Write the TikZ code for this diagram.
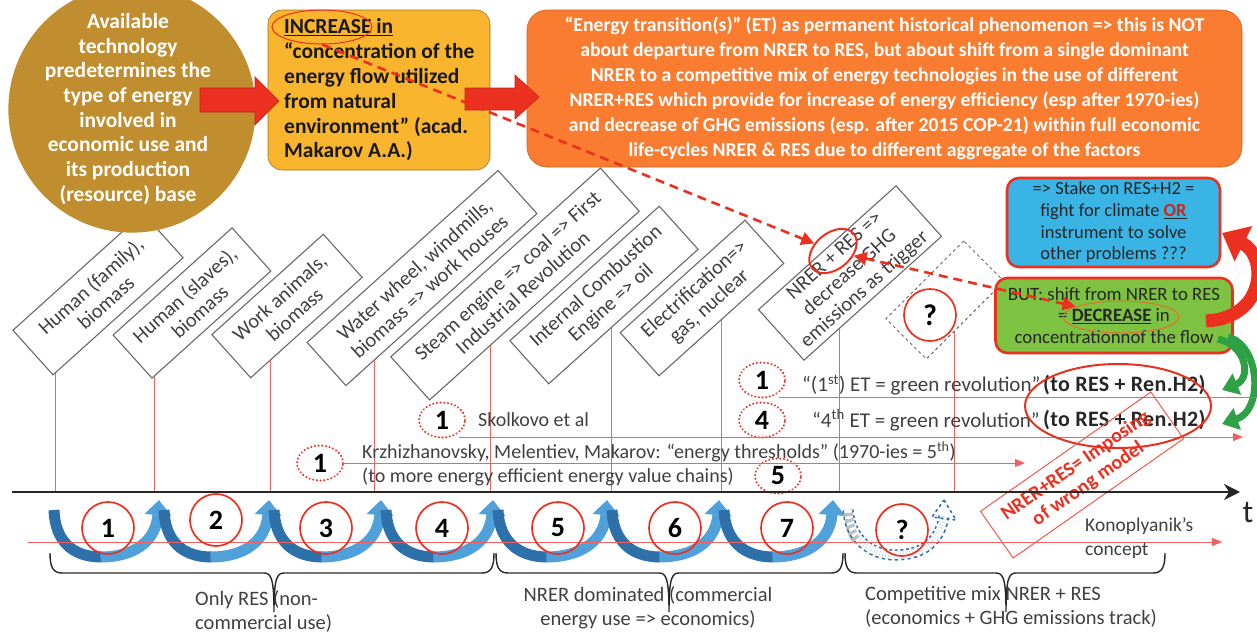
\documentclass[tikz,border=0pt]{standalone}
\usepackage{fontspec}
\setmainfont{Carlito}
\usetikzlibrary{arrows.meta,calc,shapes.geometric}
\definecolor{brownc}{RGB}{192,142,46}
\definecolor{yellowc}{RGB}{250,181,46}
\definecolor{orangec}{RGB}{250,124,48}
\definecolor{bluec}{RGB}{58,180,228}
\definecolor{greenc}{RGB}{126,194,66}
\definecolor{redc}{RGB}{236,48,32}
\definecolor{thinred}{RGB}{242,96,96}
\definecolor{txtgray}{RGB}{64,64,64}
\definecolor{boxgray}{RGB}{105,105,105}
\definecolor{darkblue}{RGB}{46,112,170}
\definecolor{lightblue}{RGB}{80,160,218}
\definecolor{greenarr}{RGB}{46,160,70}
\begin{document}
\begin{tikzpicture}[x=1pt,y=-1pt,
  rbox/.style={draw=boxgray, line width=1.1, rotate=42, align=center, text=txtgray,
    font=\fontsize{20.5}{22.5}\selectfont, inner sep=2, minimum height=58},
  vline/.style={draw=thinred, line width=0.9},
  rarr/.style={-{Triangle[width=8,length=10]}},
  dcirc/.style={ellipse, draw=redc, line width=2.2, dash pattern=on 0.1pt off 3.6pt, line cap=round,
    minimum width=46, minimum height=35, inner sep=0, font=\fontsize{28}{28}\selectfont\bfseries},
  ncirc/.style={circle, draw=redc, line width=1.7, minimum size=52, inner sep=0,
    font=\fontsize{28}{28}\selectfont\bfseries},
  lbl/.style={text=txtgray, font=\fontsize{20}{24}\selectfont, inner sep=0, anchor=west},
  etb/.style={text=black!85, font=\fontsize{22}{24}\selectfont\bfseries\addfontfeatures{LetterSpace=1.5}, inner sep=0, anchor=west},
  rdash/.style={draw=redc, line width=2.6, dash pattern=on 9pt off 6pt},
  swd/.style={draw=darkblue, line width=11},
  swl/.style={draw=lightblue, line width=11, -{Triangle[width=26,length=15]}},
  bracestyle/.style={draw=black!85, line width=1.4},
  blockarrow/.style={fill=redc, draw=redc!80!black, line width=0.6},
]
\useasboundingbox (0,0) rectangle (1257,635);

% timeline coordinates
\coordinate (tl0) at (12,492);
\coordinate (tl1) at (1240,492);

% rotated boxes
\node[rbox, minimum width=175, minimum height=60] (b1) at (98,294) {Human (family),\\biomass};
\node[rbox, minimum width=160] (b2) at (192,303) {Human (slaves),\\biomass};
\node[rbox, minimum width=150] (b3) at (287,306) {Work animals,\\biomass};
\node[rbox, minimum width=257] (b4) at (422,278) {Water wheel, windmills,\\biomass => work houses};
\node[rbox, minimum width=282] (b5) at (515,284) {Steam engine => coal => First\\Industrial Revolution};
\node[rbox, minimum width=201] (b6) at (604,295) {Internal Combustion\\Engine => oil};
\node[rbox, minimum width=168] (b7) at (702,298) {Electrification=>\\gas, nuclear};
\node[rbox, minimum width=185, minimum height=68] (b8) at (850,273) {NRER + RES =>\\decrease GHG\\emissions as trigger};
\node[draw=boxgray, line width=1, dashed, rotate=45, minimum width=110, minimum height=57] (b9) at (945,300) {};
\node[ncirc, font=\fontsize{30}{30}\selectfont\bfseries] (q1) at (930,315) {?};

% vertical red lines
\foreach \b/\f in {b1/0.02, b2/0.02, b3/0.18, b4/0.15, b5/0.29, b6/0.42, b7/0.5, b8/0.26, b9/0.36}{
  \path ($(\b.south west)!\f!(\b.south east)$) coordinate (vtmp);
  \draw[vline] (vtmp) -- (vtmp |- tl0);
}

% brown circle
\node[circle, fill=brownc, minimum size=236, inner sep=0, align=center, text=white,
  font=\fontsize{21.5}{24.7}\selectfont\bfseries] (avail) at (132,109)
  {\hspace*{-8pt}Available\\\hspace*{-8pt}technology\\\hspace*{-8pt}predetermines the\\\hspace*{-8pt}type of energy\\\hspace*{-8pt}involved in\\\hspace*{-8pt}economic use and\\\hspace*{-8pt}its production\\\hspace*{-8pt}(resource) base};

% yellow box
\node[draw=brownc!80!black, line width=0.6, fill=yellowc, rounded corners=14,
  minimum width=222, minimum height=160, inner sep=0] (yel) at (379,90) {};
\node[anchor=west, align=left, inner sep=0, font=\fontsize{21.5}{24.8}\selectfont\bfseries, text=black!90]
  (yeltxt) at (284,90) {\underline{INCREASE in}\\“concentration of the\\energy flow utilized\\from natural\\environment”  (acad.\\Makarov A.A.)};
\node[ellipse, draw=redc, line width=1, minimum width=100, minimum height=34, inner sep=0] (incell) at (322,27) {};

% orange box
\node[draw=orangec!80!black, line width=0.6, fill=orangec, rounded corners=20,
  minimum width=715, minimum height=157, inner sep=0, align=center, text=white,
  font=\fontsize{19.7}{25}\selectfont\bfseries] (ora) at (884.5,88.5)
  {“Energy transition(s)”  (ET) as permanent historical phenomenon => this is NOT\\
   about departure  from NRER to RES, but about shift from a single dominant\\
   NRER to a competitive mix of energy technologies in the use of different\\
   NRER+RES which provide  for increase of energy efficiency (esp after 1970-ies)\\
   and decrease of GHG emissions  (esp. after 2015 COP-21) within full economic\\
   life-cycles NRER \& RES due to different aggregate of the factors};

% block arrows
\fill[blockarrow] (200,88) -- (255,88) -- (255,77) -- (279,101) -- (255,125) -- (255,112) -- (200,112) -- cycle;
\fill[blockarrow] (465,88) -- (515,88) -- (515,75) -- (539,97) -- (515,119) -- (515,110) -- (465,110) -- cycle;

% blue and green boxes
\node[draw=redc, line width=2.6, fill=bluec, rounded corners=12, minimum width=213, minimum height=89,
  inner sep=0, align=center, text=black!85, font=\fontsize{18.5}{21.7}\selectfont] (blu) at (1113.5,222.5)
  {=> Stake on RES+H2 =\\fight for climate \underline{\textcolor{redc!85!black}{\textbf{OR}}}\\instrument to solve\\other problems ???};
\node[draw=redc, line width=2.6, fill=greenc, rounded corners=12, minimum width=237, minimum height=75,
  inner sep=0, align=center, text=black!85, font=\fontsize{18.8}{21.5}\selectfont] (grn) at (1114,315.5)
  {BUT: shift from NRER to RES\\= \underline{\textbf{DECREASE}} in\\concentrationnof the flow};
\node[ellipse, draw=orangec!90!black, line width=1, minimum width=116, minimum height=32, inner sep=0] (decell) at (1121,317) {};

% curved side arrows
\coordinate (ra0) at (1206,321);
\coordinate (ra1) at (1222,233);
\draw[draw=redc, line width=13, -{Triangle[width=38,length=24]}] (ra0) .. controls (1266,318) and (1268,256) .. (ra1);
\coordinate (ga0) at (1218,339);
\coordinate (ga1) at (1222,390);
\draw[draw=greenarr, line width=7, -{Triangle[width=22,length=16]}] (ga0) .. controls (1246,345) and (1252,378) .. (ga1);
\coordinate (gb0) at (1228,337);
\coordinate (gb1) at (1222,424);
\draw[draw=greenarr, line width=7, -{Triangle[width=22,length=16]}] (gb0) .. controls (1260,345) and (1264,410) .. (gb1);

% RES ellipse and dashed arrows
\node[ellipse, draw=redc, line width=2, rotate=40, minimum width=54, minimum height=36, inner sep=0] (resell) at (833,251) {};
\draw[rdash, -{Triangle[width=13,length=13]}] (incell.south) -- (resell);
\draw[rdash, {Triangle[width=13,length=13]}-{Triangle[width=13,length=13]}] (resell) -- (decell);

% threshold labels and lines
\node[dcirc] (c1et) at (762,380) {1};
\node[dcirc] (c4et) at (762,420) {4};
\node[dcirc] (c1sk) at (442,420) {1};
\node[dcirc] (c1kr) at (320,463) {1};
\node[dcirc] (c5kr) at (778,476) {5};
\coordinate (e1) at (1257,397);
\coordinate (e2) at (1243,437);
\coordinate (e3) at (1025,463);
\draw[vline] (c1et.south east |- e1) -- (e1);
\draw[vline, rarr] (c1sk.south east |- e2) -- (e2);
\draw[vline, rarr] (c1kr.east |- e3) -- (e3);

\node[lbl, font=\fontsize{21}{24}\selectfont] (t1) at (802,385) {“(1\textsuperscript{st}) ET = green revolution”};
\node[etb] (t1b) at (1043,385) {(to RES + Ren.H2)};
\node[lbl, font=\fontsize{21}{24}\selectfont] (t4) at (812,420) {“4\textsuperscript{th} ET = green revolution”};
\node[etb] (t4b) at (1043,420) {(to RES + Ren.H2)};
\node[lbl] (tsk) at (478,420) {Skolkovo et al};
\node[lbl] (tkr1) at (362,452) {Krzhizhanovsky, Melentiev, Makarov: “energy thresholds”  (1970-ies = 5\textsuperscript{th})};
\node[lbl] (tkr2) at (362,477) {(to more energy efficient energy value chains)};

\node[ellipse, draw=redc, line width=2, minimum width=186, minimum height=84, inner sep=0] (bigell) at (1118,406) {};

% wrong model box
\node[draw=redc!80, line width=1, rotate=35, minimum width=208, minimum height=57, inner sep=0,
  align=center, text=redc, font=\fontsize{20}{22}\selectfont\bfseries] (wrong) at (1082,475)
  {NRER+RES= Imposing\\of wrong model};

% timeline
\draw[line width=2.6, black!85, -{Stealth[width=16,length=16]}] (tl0) -- (tl1);
\node[inner sep=0, font=\fontsize{32}{32}\selectfont, text=black!85] (tlab) at (1248,512) {t};

% bottom swoops
\foreach \a/\b in {52/162, 162/272, 272/384, 384/496, 496/610, 610/722, 722/836}{
  \pgfmathsetmacro\m{\a+0.45*(\b-\a)}
  \draw[swd] (\a+2,510) .. controls (\a+3,540) and (\m-30,557) .. (\m,557);
  \draw[swl] (\m-1,557) .. controls (\m+32,557) and (\b-6,542) .. (\b-3,500);
}
% dashed future swoop
\draw[line width=9, black!25] (848,510) .. controls (849,524) and (851,532) .. (856,540);
\draw[darkblue, line width=1.6, dashed, double=white, double distance=8]
  (848,510) .. controls (850,538) and (870,555) .. (895,555) .. controls (925,555) and (940,540) .. (944,516);
\draw[darkblue, line width=1.6, dashed] (944,500) -- (956,520) -- (932,517) -- cycle;

% bottom red line
\coordinate (kl0) at (28,542);
\coordinate (kl1) at (1222,542);
\draw[vline, rarr] (kl0) -- (kl1);

% numbered circles
\node[ncirc] (n1) at (108,528) {1};
\node[ncirc] (n2) at (216,520) {2};
\node[ncirc] (n3) at (326,528) {3};
\node[ncirc] (n4) at (442,528) {4};
\node[ncirc] (n5) at (558,528) {5};
\node[ncirc] (n6) at (675,528) {6};
\node[ncirc] (n7) at (787,528) {7};
\node[ncirc] (nq) at (902,530) {?};

\node[lbl, font=\fontsize{19.5}{24}\selectfont, align=left, anchor=north west] (kon) at (1085,518) {Konoplyanik’s\\concept};

% braces
\newcommand\mybrace[3]{\draw[bracestyle] (#1,553) .. controls (#1,567) and (#1+3,573) .. (#1+12,573) -- (#3-10,573) .. controls (#3-3,573) and (#3,578) .. (#3,612) .. controls (#3,578) and (#3+3,573) .. (#3+10,573) -- (#2-12,573) .. controls (#2-3,573) and (#2,567) .. (#2,553);}
\mybrace{50}{494}{274}
\mybrace{496}{843}{669}
\mybrace{845}{1165}{1006}

\node[lbl, font=\fontsize{20.5}{24}\selectfont, align=left, anchor=north west] (br1) at (195,590) {Only RES (non-\\commercial use)};
\node[lbl, font=\fontsize{20.5}{24}\selectfont, align=center, anchor=north] (br2) at (648,586) {NRER dominated (commercial\\energy use => economics)};
\node[lbl, font=\fontsize{20.5}{24}\selectfont, align=left, anchor=north west] (br3) at (865,586) {Competitive mix NRER + RES\\(economics + GHG emissions track)};

\end{tikzpicture}
\end{document}
